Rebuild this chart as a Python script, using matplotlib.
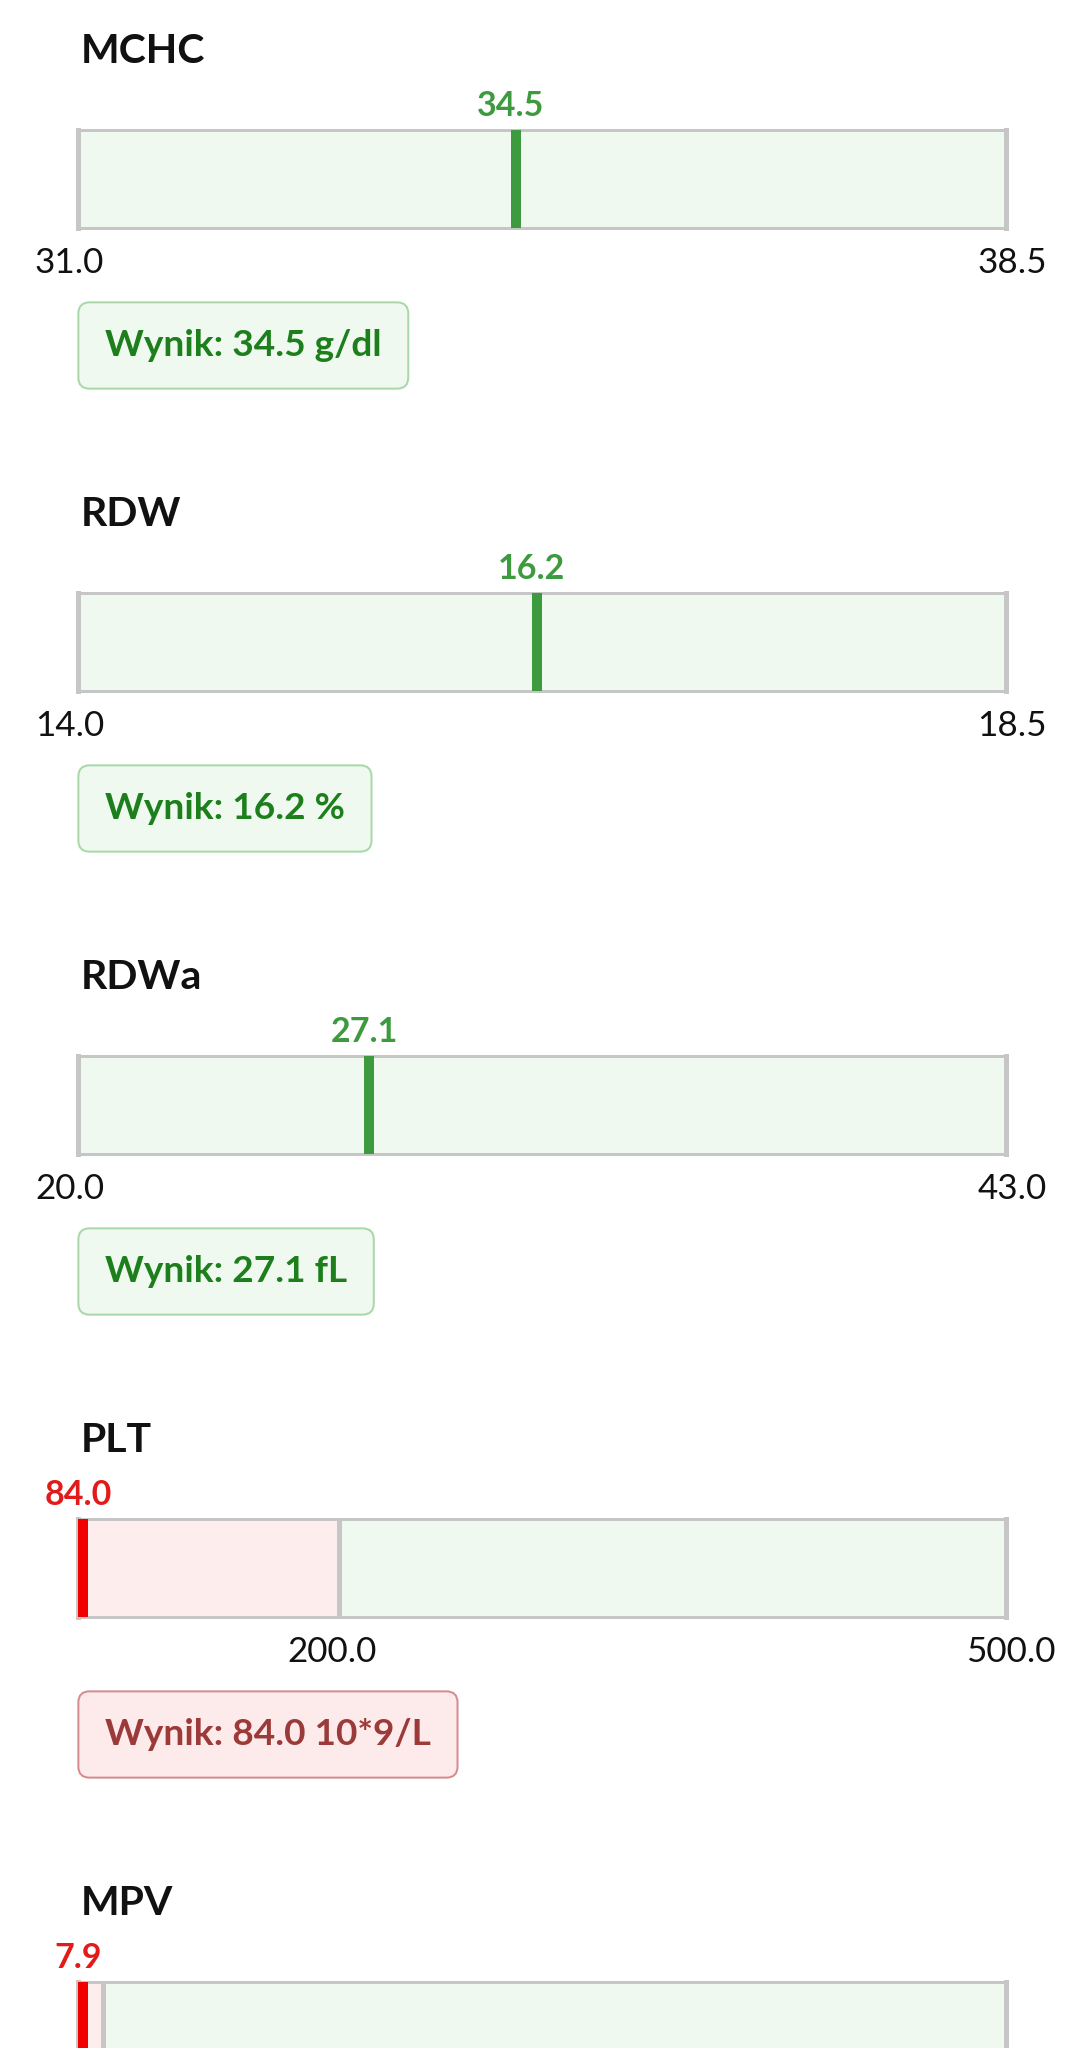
import matplotlib.pyplot as plt
from matplotlib.transforms import ScaledTranslation

plt.rcParams["font.family"] = ["Lato", "DejaVu Sans"]

# lab results (value + reference range)
names = ["MCHC", "RDW", "RDWa", "PLT", "MPV"]
values = [34.5, 16.2, 27.1, 84.0, 7.9]
low = [31.0, 14.0, 20.0, 200.0, 8.0]
high = [38.5, 18.5, 43.0, 500.0, 12.0]
units = ["g/dl", "%", "fL", "10*9/L", "fL"]

W, H = 1084, 2048
DPI = 100
STEP = 463  # vertical distance between panels, px

GRAY = "#c6c6c6"
GREEN_ZONE = "#f0f9f0"
RED_ZONE = "#fdeded"
GREEN = "#3e9a3e"
RED = "#f00000"
RED_LABEL = "#e31a1a"

fig = plt.figure(figsize=(W / DPI, H / DPI), dpi=DPI)


def px(x):
    # pixel -> points
    return x * 72 / DPI


def shift(dx, dy):
    return ScaledTranslation(dx / DPI, dy / DPI, fig.dpi_scale_trans)


for i, name in enumerate(names):
    v, lo_n, hi_n, unit = values[i], low[i], high[i], units[i]
    dy = i * STEP
    is_low = v < lo_n
    is_high = v > hi_n
    ok = not (is_low or is_high)
    lo = min(v, lo_n)
    hi = max(v, hi_n)

    # title
    fig.text(81 / W, 1 - (63 + dy) / H, name, fontsize=px(41), fontweight="bold",
             color="#111111", va="baseline", ha="left")

    # bar
    ax = fig.add_axes([78 / W, 1 - (228 + dy) / H, 928 / W, 98 / H])
    ax.set_xlim(lo, hi)
    ax.set_ylim(0, 1)
    ax.set_xticks([])
    ax.set_yticks([])
    ax.axvspan(lo_n, hi_n, color=GREEN_ZONE, lw=0)
    if is_low:
        ax.axvspan(v, lo_n, color=RED_ZONE, lw=0)
        ax.plot([lo_n, lo_n], [0, 1], color=GRAY, lw=px(5), solid_capstyle="butt",
                transform=ax.transData + shift(2.5, 0))
    if is_high:
        ax.axvspan(hi_n, v, color=RED_ZONE, lw=0)
        ax.plot([hi_n, hi_n], [0, 1], color=GRAY, lw=px(5), solid_capstyle="butt",
                transform=ax.transData + shift(2.5, 0))
    for side, s in ax.spines.items():
        s.set_color(GRAY)
        s.set_linewidth(px(5) if side in ("left", "right") else px(3))

    mcol = GREEN if ok else RED
    ax.plot([v, v], [0, 1], color=mcol, lw=px(10), solid_capstyle="butt",
            transform=ax.transData + shift(5, 0), zorder=5)
    ax.text(v, 1, f"{v:.1f}", transform=ax.transData + shift(0, 14),
            ha="center", va="baseline", fontsize=px(34), fontweight="bold",
            color=GREEN if ok else RED_LABEL, clip_on=False)

    # the last panel is cut by the bottom edge: range labels and badge fall off canvas
    if 272 + dy > H:
        continue

    # range labels
    tx = fig.add_axes([69.5 / W, 1 - (228 + dy) / H, (1012 - 69.5) / W, 98 / H])
    tx.set_xlim(lo, hi)
    tx.set_xticks([lo_n, hi_n])
    tx.set_xticklabels([f"{t:.1f}" for t in (lo_n, hi_n)])
    tx.set_yticks([])
    tx.tick_params(axis="x", length=0, labelsize=px(35), pad=px(19), labelcolor="#111111")
    tx.patch.set_visible(False)
    for s in tx.spines.values():
        s.set_visible(False)

    # result badge
    if ok:
        fc, ec, tc = "#f0f9f0", "#a8d8a8", "#1c7f1c"
    else:
        fc, ec, tc = "#fdeaea", "#d68c8e", "#9c3a3a"
    fig.text(105 / W, 1 - (356 + dy) / H, f"Wynik: {v:.1f} {unit}",
             fontsize=px(37), fontweight="bold", color=tc, va="baseline", ha="left",
             bbox=dict(boxstyle="round,pad=0.72,rounding_size=0.3", fc=fc, ec=ec, lw=px(2)))

fig.savefig("out.png", dpi=DPI, facecolor="white")
